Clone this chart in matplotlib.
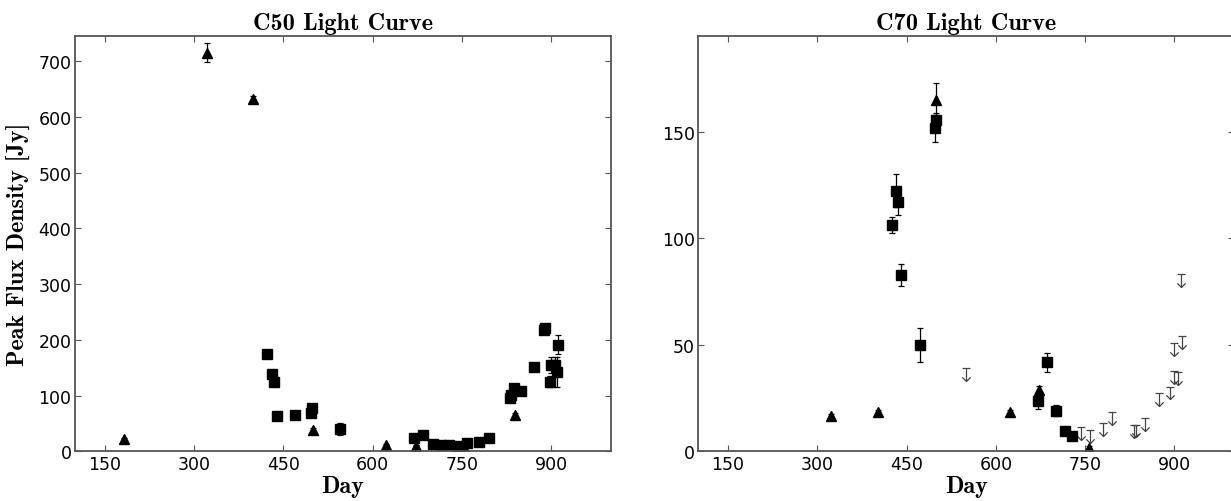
import numpy as np
import matplotlib
matplotlib.use('Agg')
import matplotlib.pyplot as plt
from matplotlib.path import Path

plt.rcParams['font.family'] = 'DejaVu Sans'
plt.rcParams['axes.unicode_minus'] = False

# C50 data
c50_tri_day = [183, 321, 399, 500, 622, 673, 756, 839]
c50_tri_flux = [22, 715, 633, 39, 11, 10, 4, 65]
c50_tri_err = [2, 17, 4, 3, 2, 2, 2, 4]

c50_sq_day = [423, 431, 434, 440, 470, 497, 498, 546, 670, 684, 701, 715, 729,
              743, 758, 778, 796, 830, 832, 838, 850, 871, 888, 889, 898, 899,
              906, 910, 911]
c50_sq_flux = [175, 139, 124, 63, 65, 68, 77, 40, 24, 29, 14, 12, 11,
               10, 15, 17, 24, 96, 101, 113, 108, 151, 217, 221, 125, 155,
               155, 142, 191]
c50_sq_err = [3, 3, 3, 3, 3, 3, 3, 10, 3, 3, 2, 2, 2,
              2, 2, 2, 2, 3, 3, 3, 3, 3, 5, 5, 10, 15,
              15, 27, 17]

# C70 data
c70_tri_day = [323, 402, 500, 624, 673, 756]
c70_tri_flux = [16.4, 18.6, 165, 18.3, 28.8, 1.4]
c70_tri_err = [1, 1, 8, 1, 2, 1]

c70_sq_day = [425, 432, 435.5, 441, 472, 498, 499.5, 671, 686, 701.6, 715.6, 728.5]
c70_sq_flux = [106.3, 122.3, 117.1, 82.7, 49.7, 151.5, 155.6, 23.5, 41.8, 19, 9.5, 7.2]
c70_sq_err = [3.7, 7.8, 6.3, 5.2, 8, 6.3, 3, 3.5, 4.5, 2.5, 1.5, 1.5]

# upper limits (value at the cap)
c70_ul_day = [550, 743, 758, 779.5, 795, 831.5, 835, 851, 873.5, 892.5, 900,
              905.5, 900, 912.5, 911.5]
c70_ul_flux = [39, 11.3, 10.1, 13.3, 18.3, 12.4, 12.5, 15.6, 27.3, 30.4, 37.7,
               37.2, 50.7, 54.1, 83.2]
arrow_len = 6.0

W, H = 1231, 502
fig = plt.figure(figsize=(W / 100, H / 100), dpi=100)

ax_w = 535.7 / W
ax_h = (452.3 - 36.7) / H
ax_b = (H - 452.3) / H
ax1 = fig.add_axes([75 / W, ax_b, ax_w, ax_h])
ax2 = fig.add_axes([698.3 / W, ax_b, ax_w, ax_h])

vee = Path([(-1, 1), (0, 0), (1, 1)], [Path.MOVETO, Path.LINETO, Path.LINETO])
serif_bold = dict(family='cmb10')


def style(ax, ylim, yticks):
    ax.set_xlim(100, 1000)
    ax.set_ylim(*ylim)
    ax.set_xticks([150, 300, 450, 600, 750, 900])
    ax.set_yticks(yticks)
    ax.tick_params(direction='in', top=True, right=True, length=4, width=0.8,
                   color='#555555', labelsize=12.5, pad=3)
    ax.tick_params(axis='y', pad=2.5)
    for s in ax.spines.values():
        s.set_color('#555555')
        s.set_linewidth(1.3)
    ax.set_xlabel('Day', fontsize=17.3, labelpad=1, **serif_bold)


# left panel
ax1.errorbar(c50_tri_day, c50_tri_flux, yerr=c50_tri_err, fmt='^', color='k',
             ms=7, capsize=2.5, elinewidth=0.9, capthick=0.9)
ax1.errorbar(c50_sq_day, c50_sq_flux, yerr=c50_sq_err, fmt='s', color='k',
             ms=7, capsize=2.5, elinewidth=0.9, capthick=0.9)
style(ax1, (0, 746), range(0, 701, 100))
ax1.set_title('C50 Light Curve', fontsize=17.5, pad=5, **serif_bold)
ax1.set_ylabel('Peak Flux Density [Jy]', fontsize=17.3, labelpad=5, **serif_bold)

# right panel
ax2.errorbar(c70_tri_day, c70_tri_flux, yerr=c70_tri_err, fmt='^', color='k',
             ms=7, capsize=2.5, elinewidth=0.9, capthick=0.9)
ax2.errorbar(c70_sq_day, c70_sq_flux, yerr=c70_sq_err, fmt='s', color='k',
             ms=7, capsize=2.5, elinewidth=0.9, capthick=0.9)
ul_day = np.array(c70_ul_day)
ul_flux = np.array(c70_ul_flux)
ax2.vlines(ul_day, ul_flux - arrow_len, ul_flux, color='#444444', lw=0.9)
ax2.plot(ul_day, ul_flux, '_', color='#444444', ms=6, mew=0.9, ls='none')
ax2.plot(ul_day, ul_flux - arrow_len, marker=vee, color='#444444', ms=6,
         mew=0.9, mfc='none', ls='none')
style(ax2, (0, 195), [0, 50, 100, 150])
ax2.set_title('C70 Light Curve', fontsize=17.5, pad=5, **serif_bold)

fig.savefig('out.png', dpi=100)
